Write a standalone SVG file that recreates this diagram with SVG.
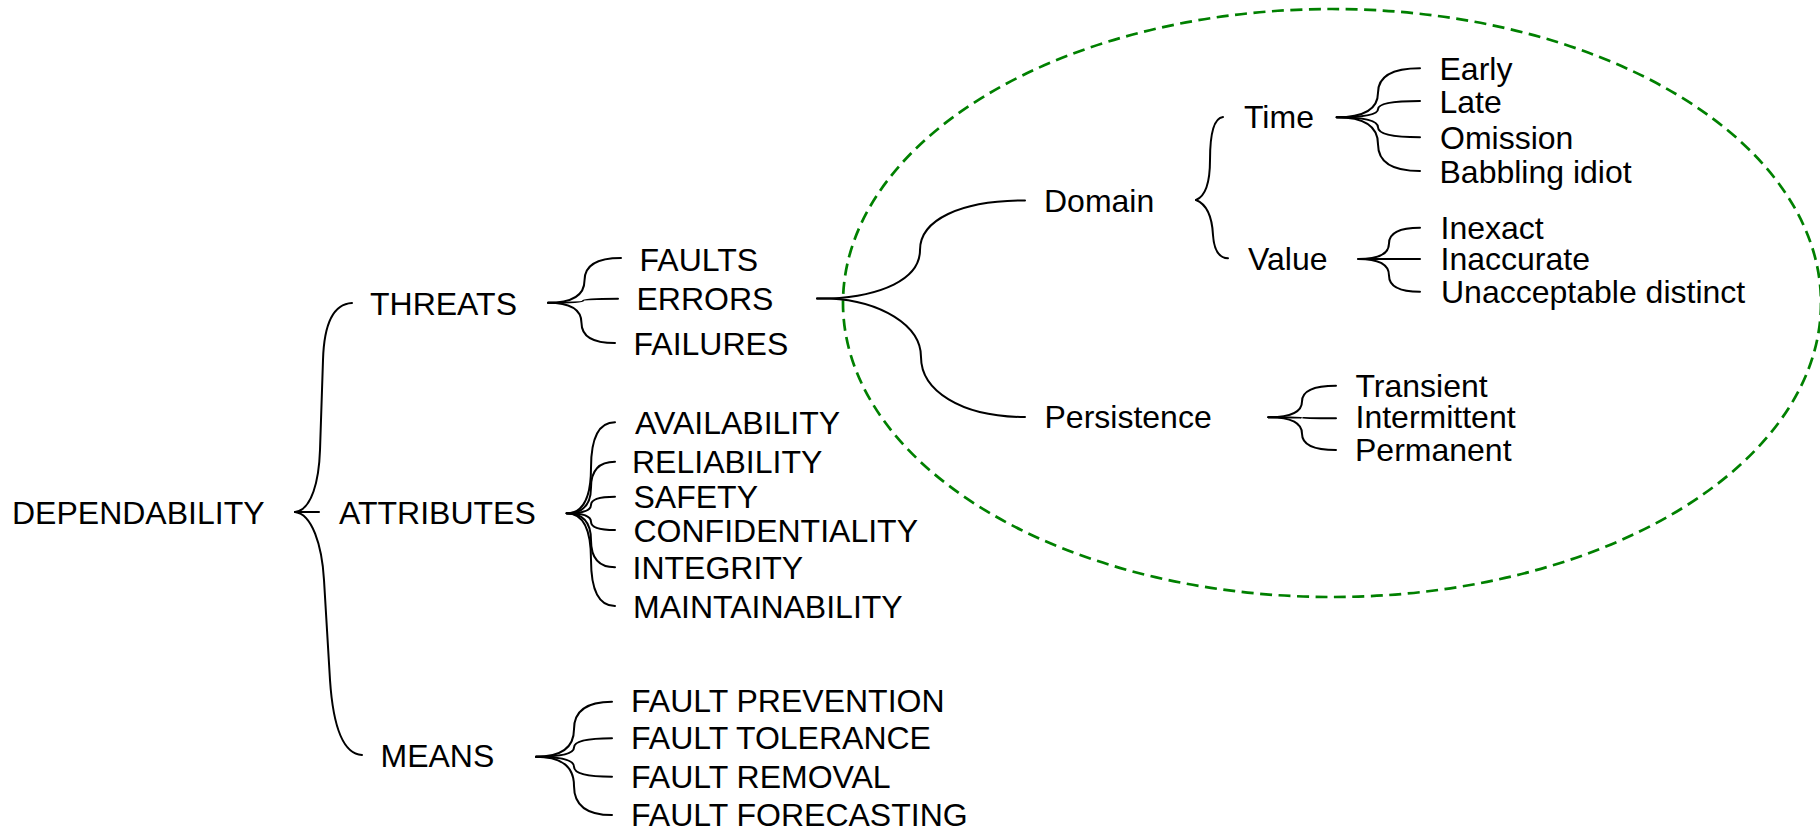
<svg xmlns="http://www.w3.org/2000/svg" width="1820" height="830" viewBox="0 0 1820 830">
<style>
  text { font-family: "Liberation Sans", Arial, sans-serif; font-size: 32px; fill: #000; }
  .ln { fill: none; stroke: #000; stroke-width: 2; stroke-linecap: round; }
  .region { fill: none; stroke: #008000; stroke-width: 2.7; stroke-dasharray: 12 6.5; }
</style>
<rect width="1820" height="830" fill="#fff"/>
<ellipse id="errors-region" class="region" cx="1332" cy="303" rx="489" ry="294"/>

<g id="connectors">
  <!-- DEPENDABILITY brace -->
  <path class="ln" d="M295,512 C312,510 319,480 320,450 L323,360 C324,325 332,304 352,303"/>
  <path class="ln" d="M295,512 L319,512"/>
  <path class="ln" d="M295,512 C312,514 322,545 324,580 L330,680 C333,725 343,754 362,755"/>
  <!-- THREATS -->
  <path class="ln" d="M548,302.7 Q584.5,302.7 584.5,280.4 Q584.5,258 621,258"/>
  <path class="ln" d="M548,302.7 Q583,302.7 583,300.7 Q583,298.7 618,298.7"/>
  <path class="ln" d="M548,302.7 Q581.5,302.7 581.5,322.9 Q581.5,343 615,343"/>
  <!-- ATTRIBUTES -->
  <path class="ln" d="M566.7,513.3 Q591,513.3 591,467.8 Q591,422.3 615,422.3"/>
  <path class="ln" d="M566.7,513.3 Q591,513.3 591,487.5 Q591,461.7 615,461.7"/>
  <path class="ln" d="M566.7,513.3 Q591,513.3 591,505 Q591,496.7 615,496.7"/>
  <path class="ln" d="M566.7,513.3 Q591,513.3 591,521.7 Q591,530 615,530"/>
  <path class="ln" d="M566.7,513.3 Q591,513.3 591,540.3 Q591,567.3 615,567.3"/>
  <path class="ln" d="M566.7,513.3 Q591,513.3 591,559.7 Q591,606 615,606"/>
  <!-- MEANS -->
  <path class="ln" d="M536,756.7 Q574,756.7 574,729.2 Q574,701.7 612,701.7"/>
  <path class="ln" d="M536,756.7 Q574,756.7 574,747.5 Q574,738.3 612,738.3"/>
  <path class="ln" d="M536,756.7 Q574,756.7 574,766.7 Q574,776.7 612,776.7"/>
  <path class="ln" d="M536,756.7 Q574,756.7 574,785.9 Q574,815 612,815"/>
  <!-- ERRORS -> Domain / Persistence -->
  <path class="ln" d="M817,298.5 L830,298.5 C880,296 920,280 920,250 C920,220 960,200.5 1025,200.5"/>
  <path class="ln" d="M817,298.5 L830,298.5 C880,301 921,325 921,357 C921,390 960,417 1025,417"/>
  <!-- Domain brace -->
  <path class="ln" d="M1196,200 C1206,196 1210,180 1210,160 C1210,135 1214,118 1223,117"/>
  <path class="ln" d="M1196,200 C1206,204 1212,215 1213,235 C1214,250 1219,258 1228,258.3"/>
  <!-- Time -->
  <path class="ln" d="M1336.7,117.3 Q1378,117.3 1378,92.8 Q1378,68.3 1420,68.3"/>
  <path class="ln" d="M1336.7,117.3 Q1378,117.3 1378,109.2 Q1378,101 1420,101"/>
  <path class="ln" d="M1336.7,117.3 Q1378,117.3 1378,127.3 Q1378,137.3 1420,137.3"/>
  <path class="ln" d="M1336.7,117.3 Q1378,117.3 1378,144.2 Q1378,171 1420,171"/>
  <!-- Value -->
  <path class="ln" d="M1358.3,259 Q1389,259 1389,243.4 Q1389,227.7 1420,227.7"/>
  <path class="ln" d="M1358.3,259 L1420,259"/>
  <path class="ln" d="M1358.3,259 Q1389,259 1389,275.4 Q1389,291.7 1420,291.7"/>
  <!-- Persistence -->
  <path class="ln" d="M1268.3,417.3 Q1302,417.3 1302,401.5 Q1302,385.7 1336,385.7"/>
  <path class="ln" d="M1268.3,417.3 Q1302,417.3 1302,417.8 Q1302,418.3 1336,418.3"/>
  <path class="ln" d="M1268.3,417.3 Q1302,417.3 1302,433.7 Q1302,450 1336,450"/>
</g>

<g id="dependability"><text x="12" y="523.5">DEPENDABILITY</text></g>
<g id="threats"><text x="370" y="315">THREATS</text></g>
<g id="attributes"><text x="339" y="523.5">ATTRIBUTES</text></g>
<g id="means"><text x="380.5" y="767">MEANS</text></g>

<g id="faults"><text x="639.5" y="270.7">FAULTS</text></g>
<g id="errors"><text x="636.5" y="310">ERRORS</text></g>
<g id="failures"><text x="633.5" y="355">FAILURES</text></g>

<g id="availability"><text x="635" y="434">AVAILABILITY</text></g>
<g id="reliability"><text x="632" y="473.3">RELIABILITY</text></g>
<g id="safety"><text x="633.5" y="508.3">SAFETY</text></g>
<g id="confidentiality"><text x="633.5" y="541.7">CONFIDENTIALITY</text></g>
<g id="integrity"><text x="632.5" y="579">INTEGRITY</text></g>
<g id="maintainability"><text x="633" y="617.7">MAINTAINABILITY</text></g>

<g id="fault-prevention"><text x="631" y="711.7">FAULT PREVENTION</text></g>
<g id="fault-tolerance"><text x="631" y="749.3">FAULT TOLERANCE</text></g>
<g id="fault-removal"><text x="631" y="788.3">FAULT REMOVAL</text></g>
<g id="fault-forecasting"><text x="631" y="826">FAULT FORECASTING</text></g>

<g id="domain"><text x="1044" y="211.7">Domain</text></g>
<g id="persistence"><text x="1044.5" y="428.3">Persistence</text></g>
<g id="time"><text x="1244" y="128.3">Time</text></g>
<g id="value"><text x="1248" y="270">Value</text></g>

<g id="early"><text x="1439.5" y="80">Early</text></g>
<g id="late"><text x="1439.5" y="112.7">Late</text></g>
<g id="omission"><text x="1440" y="149.3">Omission</text></g>
<g id="babbling-idiot"><text x="1439.5" y="182.7">Babbling idiot</text></g>

<g id="inexact"><text x="1440.5" y="239">Inexact</text></g>
<g id="inaccurate"><text x="1440.5" y="270">Inaccurate</text></g>
<g id="unacceptable-distinct"><text x="1441" y="303.3">Unacceptable distinct</text></g>

<g id="transient"><text x="1355.5" y="396.7">Transient</text></g>
<g id="intermittent"><text x="1355.5" y="428.3">Intermittent</text></g>
<g id="permanent"><text x="1355" y="460.7">Permanent</text></g>
</svg>
